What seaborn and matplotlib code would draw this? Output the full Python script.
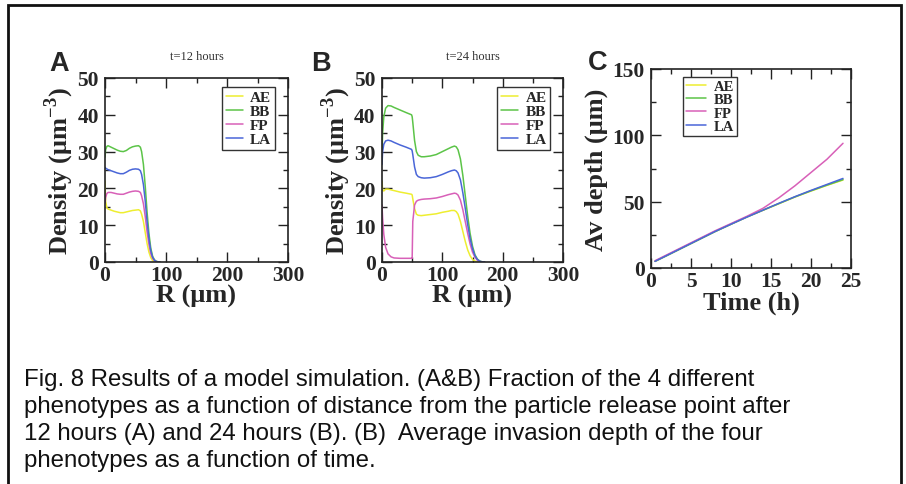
import seaborn as sns
import matplotlib.pyplot as plt
import matplotlib.patches as patches
from matplotlib.ticker import MultipleLocator

# panel A: density profiles after 12 hours
r_a = [0, 1, 3, 5, 10, 15, 20, 25, 30, 35, 40, 45, 50, 55, 58, 60, 63, 66, 69, 72, 75, 78, 81, 84, 87, 90]
ae_a = [22.0, 16.5, 14.8, 14.4, 14.1, 13.8, 13.6, 13.4, 13.4, 13.6, 13.8, 14.0, 14.1, 14.2, 13.9, 13.0, 11.0, 8.0, 5.0, 2.7, 1.2, 0.4, 0.1, 0.02, 0.0, 0.0]
bb_a = [28.5, 30.5, 31.4, 31.6, 31.2, 30.8, 30.4, 30.1, 30.0, 30.3, 30.9, 31.3, 31.5, 31.6, 31.2, 30.0, 26.5, 20.5, 13.5, 7.8, 3.8, 1.6, 0.6, 0.2, 0.05, 0.0]
fp_a = [16.0, 17.5, 18.6, 18.9, 18.9, 18.7, 18.5, 18.4, 18.4, 18.7, 19.0, 19.2, 19.3, 19.2, 18.9, 18.0, 15.8, 12.3, 8.2, 4.8, 2.3, 1.0, 0.4, 0.1, 0.02, 0.0]
la_a = [25.7, 25.5, 25.3, 25.1, 24.8, 24.5, 24.2, 24.0, 24.0, 24.4, 24.9, 25.2, 25.3, 25.2, 24.8, 23.8, 21.0, 16.5, 11.0, 6.4, 3.1, 1.3, 0.5, 0.15, 0.03, 0.0]

# panel B: density profiles after 24 hours
r_b = [0, 1, 3, 6, 10, 15, 20, 30, 40, 49, 50, 51, 54, 57, 60, 65, 70, 80, 90, 100, 110, 115, 120, 123, 126, 130, 134, 138, 142, 146, 150, 154, 158, 162, 166, 170]
ae_b = [22.0, 19.5, 19.3, 19.8, 19.8, 19.6, 19.4, 19.0, 18.7, 18.4, 18.2, 17.2, 14.5, 13.0, 12.7, 12.6, 12.7, 12.9, 13.1, 13.5, 13.8, 14.0, 14.0, 13.7, 13.0, 11.0, 8.3, 5.6, 3.3, 1.7, 0.7, 0.25, 0.05, 0.0, 0.0, 0.0]
bb_b = [29.0, 35.0, 39.5, 41.8, 42.5, 42.4, 42.0, 41.3, 40.6, 40.0, 39.5, 38.0, 33.0, 30.0, 29.0, 28.6, 28.6, 28.8, 29.2, 30.0, 30.8, 31.2, 31.5, 31.3, 30.5, 28.0, 23.5, 18.0, 12.5, 7.8, 4.3, 2.0, 0.8, 0.25, 0.05, 0.0]
fp_b = [15.5, 12.0, 7.5, 4.0, 2.2, 1.4, 1.1, 1.0, 1.0, 1.0, 1.0, 11.0, 15.5, 16.5, 16.8, 17.0, 17.1, 17.2, 17.4, 17.8, 18.3, 18.5, 18.7, 18.6, 18.2, 16.8, 14.2, 11.0, 7.8, 4.9, 2.7, 1.3, 0.5, 0.15, 0.03, 0.0]
la_b = [26.5, 30.0, 32.0, 32.9, 33.1, 32.9, 32.5, 31.8, 31.2, 30.6, 30.2, 29.2, 25.8, 23.8, 23.2, 22.9, 22.8, 22.9, 23.2, 23.8, 24.5, 24.8, 25.0, 24.8, 24.2, 22.3, 18.8, 14.6, 10.2, 6.4, 3.6, 1.7, 0.7, 0.2, 0.05, 0.0]

# panel C: average invasion depth over time
t_c = [0.5, 2, 4, 6, 8, 10, 12, 14, 16, 18, 20, 22, 24]
ae_c = [5.0, 9.5, 15.5, 21.5, 27.5, 33.0, 38.5, 43.5, 48.5, 53.5, 58.0, 62.3, 66.3]
bb_c = [5.0, 9.4, 15.4, 21.4, 27.4, 33.0, 38.5, 43.6, 48.6, 53.6, 58.2, 62.5, 66.6]
fp_c = [5.5, 10.0, 16.0, 22.0, 28.0, 33.5, 39.0, 45.0, 53.0, 62.0, 72.0, 82.0, 94.0]
la_c = [5.0, 9.5, 15.5, 21.5, 27.5, 33.0, 38.4, 43.6, 48.8, 53.8, 58.5, 63.0, 67.5]

names = ["AE", "BB", "FP", "LA"]
colors = ["#eeee30", "#5cc448", "#d860b8", "#4a66d8"]

sns.set_theme(style="ticks")
plt.rcParams['font.family'] = ['Liberation Serif', 'DejaVu Serif']
plt.rcParams['mathtext.fontset'] = 'custom'
plt.rcParams['mathtext.rm'] = 'Liberation Serif'
plt.rcParams['mathtext.bf'] = 'Liberation Serif:bold'

W, H = 906, 485
fig = plt.figure(figsize=(W / 100, H / 100), dpi=100)


def px_axes(left, top, right, bottom):
    return fig.add_axes([left / W, 1 - bottom / H, (right - left) / W, (bottom - top) / H])


def style_axes(ax, xmaj, xmin, ymaj, ymin):
    ax.xaxis.set_major_locator(MultipleLocator(xmaj))
    ax.xaxis.set_minor_locator(MultipleLocator(xmin))
    ax.yaxis.set_major_locator(MultipleLocator(ymaj))
    ax.yaxis.set_minor_locator(MultipleLocator(ymin))
    ax.tick_params(which='both', direction='in', top=True, right=True, color='#222222', width=1)
    ax.tick_params(which='major', length=7, labelsize=15.5)
    ax.tick_params(which='minor', length=3.5)
    ax.tick_params(axis='x', pad=2.5)
    ax.tick_params(axis='y', pad=4.5)
    for lab in ax.get_xticklabels() + ax.get_yticklabels():
        lab.set_fontweight('bold')
    for sp in ax.spines.values():
        sp.set_linewidth(1.2)
        sp.set_color('#222222')


def draw(ax, x, series):
    for ys, name, col in zip(series, names, colors):
        sns.lineplot(x=x, y=ys, ax=ax, color=col, label=name, linewidth=1.1)


ax_a = px_axes(105, 79, 288, 263)
ax_b = px_axes(382, 79, 563, 263)
ax_c = px_axes(651, 70, 851, 269)

draw(ax_a, r_a, [ae_a, bb_a, fp_a, la_a])
draw(ax_b, r_b, [ae_b, bb_b, fp_b, la_b])
draw(ax_c, t_c, [ae_c, bb_c, fp_c, la_c])

for ax, title in [(ax_a, "t=12 hours"), (ax_b, "t=24 hours")]:
    ax.set_xlim(0, 300)
    ax.set_ylim(0, 50)
    style_axes(ax, 100, 50, 10, 5)
    ax.set_xlabel("R (μm)", fontsize=19, fontweight='bold', va='top')
    ax.set_ylabel("Density (μm$^{\\mathbf{-3}}$)", fontsize=19, fontweight='bold', va='center')
    ax.xaxis.set_label_coords(0.5, -0.117)
    ax.yaxis.set_label_coords(-0.25, 0.5)
    ax.text(0.5, 1.12, title, transform=ax.transAxes, ha='center', va='center',
            fontsize=9, color='#333333')
    ax.legend(loc='upper right', bbox_to_anchor=(0.93, 0.952),
              prop={'weight': 'bold', 'size': 11}, frameon=True, fancybox=False,
              edgecolor='#333333', framealpha=1, handlelength=1.1, handletextpad=0.5,
              borderpad=0.25, labelspacing=0.02, borderaxespad=0)

ax_c.set_xlim(0, 25)
ax_c.set_ylim(0, 150)
style_axes(ax_c, 5, 2.5, 50, 25)
ax_c.set_xlabel("Time (h)", fontsize=19, fontweight='bold', va='top')
ax_c.set_ylabel("Av depth (μm)", fontsize=19, fontweight='bold', va='center')
ax_c.xaxis.set_label_coords(0.5, -0.112)
ax_c.yaxis.set_label_coords(-0.275, 0.5)
ax_c.legend(loc='upper left', bbox_to_anchor=(0.16, 0.96),
            prop={'weight': 'bold', 'size': 10.5}, frameon=True, fancybox=False,
            edgecolor='#333333', framealpha=1, handlelength=1.4, handletextpad=0.5,
            borderpad=0.2, labelspacing=0.0, borderaxespad=0)
for leg_ax in (ax_a, ax_b, ax_c):
    leg_ax.get_legend().get_frame().set_linewidth(1.0)

# panel letters
for letter, x, y in [("A", 59, 64), ("B", 321, 64), ("C", 598, 63)]:
    fig.text(x / W, 1 - y / H, letter, ha='center', va='center', fontsize=19.5,
             fontweight='bold', family=['Liberation Sans', 'DejaVu Sans'])

# caption
caption = [
    "Fig. 8 Results of a model simulation. (A&B) Fraction of the 4 different",
    "phenotypes as a function of distance from the particle release point after",
    "12 hours (A) and 24 hours (B). (B)  Average invasion depth of the four",
    "phenotypes as a function of time.",
]
for i, line in enumerate(caption):
    fig.text(24 / W, 1 - (386 + 27 * i) / H, line, ha='left', va='baseline', fontsize=17.3,
             family=['Liberation Sans', 'DejaVu Sans'], color='#111111')

# outer frame
fig.patches.append(patches.Rectangle((8 / W, -0.05), (901 - 8) / W, 1 - 6 / H + 0.05,
                                     transform=fig.transFigure, fill=False,
                                     edgecolor='#111111', linewidth=2))

fig.savefig("out.png", dpi=100)
